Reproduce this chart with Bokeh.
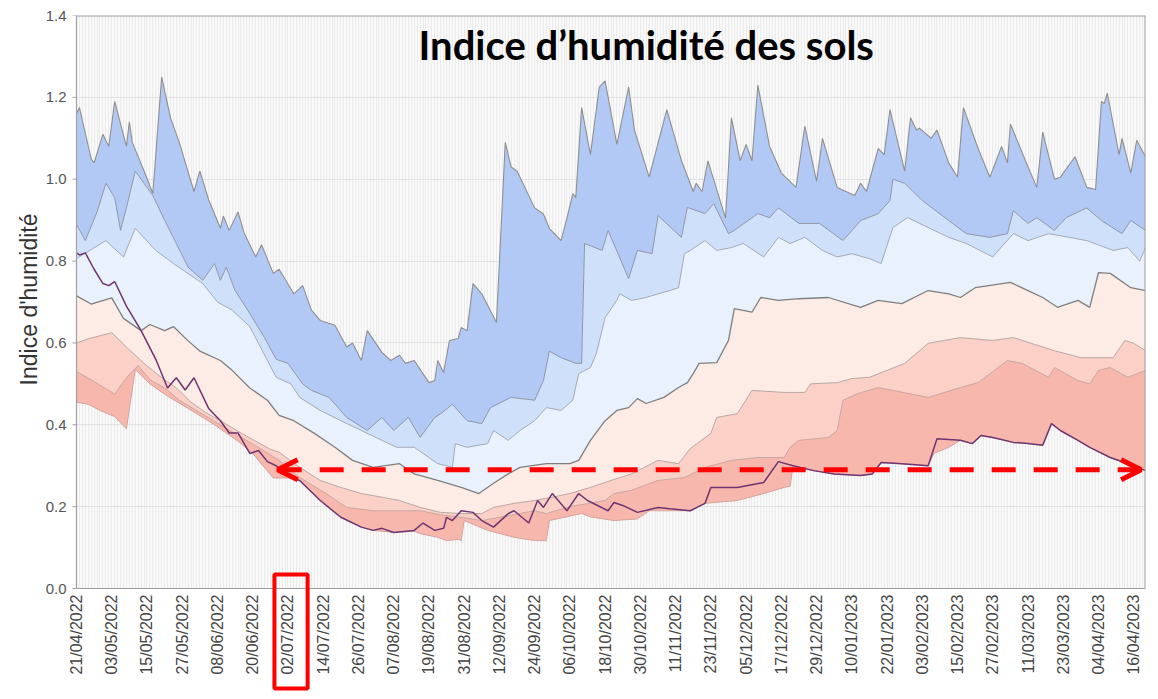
import math
from bokeh.plotting import figure
from bokeh.models import (Range1d, FixedTicker, Arrow, OpenHead, Label, Title, PrintfTickFormatter)
from bokeh.core.properties import value
from bokeh.embed import file_html
from bokeh.resources import INLINE

# ---------------- data (x = days since 21/04/2022) ----------------
TICK_LABELS = ["21/04/2022", "03/05/2022", "15/05/2022", "27/05/2022", "08/06/2022",
               "20/06/2022", "02/07/2022", "14/07/2022", "26/07/2022", "07/08/2022",
               "19/08/2022", "31/08/2022", "12/09/2022", "24/09/2022", "06/10/2022",
               "18/10/2022", "30/10/2022", "11/11/2022", "23/11/2022", "05/12/2022",
               "17/12/2022", "29/12/2022", "10/01/2023", "22/01/2023", "03/02/2023",
               "15/02/2023", "27/02/2023", "11/03/2023", "23/03/2023", "04/04/2023",
               "16/04/2023"]
TICK_STEP_DAYS = 12
Y_TICKS = [0.0, 0.2, 0.4, 0.6, 0.8, 1.0, 1.2, 1.4]

DAY_MAX = [0,1,5,6,9,11,13,17,18,19,23,26,29,32,35,40,42,45,49,50,52,55,57,61,63,67,69,74,77,80,
           83,88,92,94,97,99,104,107,110,112,115,120,122,123,125,127,130,131,133,135,138,143,146,148,
           150,156,159,161,165,167,169,170,172,175,178,180,184,185,188,190,195,201,206,210,211,213,215,
           221,223,226,228,230,232,236,240,245,248,252,254,259,265,267,269,273,275,277,282,284,286,287,
           291,293,297,300,302,307,311,315,317,318,324,327,329,333,335,340,344,347,349,350,351,355,356,
           359,361,364]
VAL_MAX = [1.16,1.175,1.05,1.04,1.11,1.08,1.19,1.08,1.14,1.09,1.02,0.965,1.25,1.15,1.09,0.97,1.02,0.95,
           0.88,0.91,0.875,0.92,0.87,0.81,0.84,0.77,0.78,0.72,0.74,0.68,0.655,0.643,0.59,0.60,0.557,0.63,
           0.577,0.557,0.57,0.55,0.557,0.503,0.508,0.557,0.528,0.606,0.611,0.638,0.63,0.745,0.72,0.65,
           1.09,1.03,1.02,0.93,0.915,0.88,0.85,0.905,0.965,0.955,1.175,1.06,1.225,1.24,1.085,1.12,1.225,
           1.12,1.005,1.17,1.045,0.97,0.99,0.97,1.045,0.905,1.15,1.045,1.085,1.045,1.23,1.08,1.015,0.98,
           1.13,0.995,1.10,0.98,0.96,0.99,0.97,1.075,1.06,1.17,1.02,1.15,1.12,1.125,1.10,1.12,1.04,1.005,
           1.175,1.075,1.005,1.08,1.04,1.135,1.03,0.98,1.115,1.00,1.005,1.055,0.98,0.975,1.19,1.185,1.21,
           1.06,1.10,1.015,1.095,1.055]

DAY_P90 = [0,3,7,10,13,15,17,20,23,26,30,34,38,43,47,49,51,54,59,64,68,72,77,80,86,92,99,104,108,113,
           117,122,124,128,133,138,141,148,156,159,161,165,170,172,173,179,181,188,191,196,198,206,208,
           214,217,222,224,232,236,239,246,253,261,267,273,277,278,282,288,297,303,311,317,319,324,327,
           333,337,344,349,356,359,364]
VAL_P90 = [0.89,0.85,0.92,0.99,0.955,0.875,0.93,1.02,0.99,0.96,0.90,0.843,0.785,0.753,0.794,0.753,0.785,
           0.728,0.672,0.613,0.56,0.55,0.50,0.484,0.467,0.418,0.386,0.418,0.386,0.418,0.369,0.418,0.427,
           0.45,0.41,0.403,0.442,0.467,0.46,0.508,0.58,0.564,0.55,0.55,0.843,0.826,0.875,0.757,0.826,0.818,
           0.911,0.858,0.931,0.916,0.94,0.867,0.875,0.916,0.906,0.93,0.892,0.892,0.85,0.899,0.916,0.948,
           1.0,0.99,0.948,0.899,0.867,0.858,0.867,0.923,0.892,0.906,0.875,0.906,0.93,0.899,0.867,0.899,0.875]

DAY_P75 = [0,10,16,20,27,33,43,48,53,59,65,68,73,76,83,90,97,104,109,115,120,123,128,129,133,140,142,
           147,151,156,160,165,169,171,175,177,180,184,185,189,194,198,202,205,207,209,214,218,223,227,
           234,239,243,248,254,259,264,270,274,278,283,290,297,303,312,319,324,331,338,344,353,358,362,364]
VAL_P75 = [0.806,0.85,0.81,0.88,0.826,0.794,0.745,0.70,0.68,0.64,0.557,0.516,0.50,0.467,0.435,0.41,0.386,
           0.362,0.345,0.345,0.32,0.305,0.296,0.354,0.345,0.354,0.386,0.362,0.386,0.41,0.442,0.435,0.46,
           0.525,0.54,0.574,0.662,0.704,0.72,0.704,0.711,0.72,0.728,0.735,0.818,0.826,0.85,0.826,0.833,
           0.843,0.81,0.858,0.843,0.858,0.826,0.81,0.818,0.806,0.794,0.882,0.906,0.882,0.858,0.843,0.81,
           0.867,0.85,0.867,0.858,0.85,0.826,0.833,0.80,0.833]

DAY_P50 = [0,5,12,16,22,25,30,33,38,42,49,53,59,65,69,74,81,88,94,101,110,115,123,131,137,142,147,151,
           160,168,171,175,180,184,188,191,194,200,205,208,210,212,218,222,224,230,233,239,246,256,267,
           273,281,290,297,301,306,318,324,329,334,341,345,348,352,359,364]
VAL_P50 = [0.715,0.695,0.71,0.66,0.63,0.645,0.63,0.64,0.605,0.58,0.557,0.533,0.49,0.46,0.423,0.41,0.379,
           0.345,0.313,0.296,0.305,0.28,0.264,0.247,0.232,0.257,0.28,0.296,0.305,0.305,0.313,0.362,0.41,
           0.435,0.442,0.464,0.452,0.467,0.491,0.503,0.525,0.55,0.552,0.606,0.684,0.675,0.711,0.704,0.708,
           0.711,0.687,0.704,0.696,0.728,0.72,0.711,0.735,0.748,0.728,0.711,0.687,0.704,0.687,0.772,0.77,
           0.735,0.728]

DAY_P25 = [0,4,12,17,23,29,34,39,44,49,56,61,66,69,76,83,90,97,104,110,117,124,131,138,142,149,156,162,
           168,175,182,189,198,205,209,216,218,225,230,241,248,250,259,264,270,276,282,290,301,312,319,
           333,342,353,357,360,364]
VAL_P25 = [0.60,0.61,0.625,0.59,0.55,0.515,0.49,0.455,0.43,0.41,0.38,0.36,0.34,0.333,0.296,0.264,0.247,
           0.232,0.223,0.215,0.198,0.186,0.183,0.183,0.198,0.208,0.215,0.223,0.232,0.247,0.264,0.28,0.313,
           0.305,0.342,0.379,0.418,0.427,0.484,0.479,0.479,0.50,0.503,0.513,0.516,0.533,0.55,0.599,0.613,
           0.606,0.613,0.581,0.564,0.564,0.606,0.599,0.581]

DAY_P10 = [0,5,13,17,21,25,30,35,42,49,56,63,69,76,85,92,101,109,117,124,131,138,147,156,160,168,180,
           183,189,198,207,214,223,232,241,243,246,256,259,261,266,273,290,301,307,317,322,331,333,341,
           345,348,352,358,364]
VAL_P10 = [0.53,0.51,0.475,0.515,0.545,0.51,0.49,0.46,0.43,0.40,0.37,0.34,0.313,0.271,0.232,0.198,0.19,
           0.19,0.19,0.18,0.174,0.166,0.178,0.19,0.183,0.20,0.215,0.232,0.24,0.264,0.271,0.296,0.313,0.32,
           0.32,0.345,0.362,0.369,0.386,0.46,0.476,0.491,0.467,0.491,0.503,0.557,0.55,0.516,0.54,0.508,
           0.50,0.533,0.54,0.516,0.533]

DAY_MIN = [0,4,8,13,17,20,25,31,38,47,55,60,67,73,76,83,90,97,101,108,115,117,123,126,130,131,132,140,
           149,156,160,161,172,175,183,191,195,209,214,225,234,241,243,244,251,258,267,271,274,281,290,
           292,297,301,305,308,312,319,324,329,332,335,341,345,352,358,364]
VAL_MIN = [0.455,0.45,0.435,0.42,0.39,0.535,0.50,0.47,0.44,0.40,0.36,0.33,0.27,0.27,0.264,0.215,0.174,
           0.15,0.142,0.137,0.14,0.134,0.125,0.117,0.12,0.117,0.166,0.142,0.125,0.117,0.117,0.166,0.183,
           0.175,0.166,0.17,0.19,0.19,0.208,0.215,0.232,0.247,0.25,0.30,0.288,0.28,0.276,0.28,0.308,0.305,
           0.30,0.33,0.345,0.362,0.354,0.374,0.369,0.357,0.354,0.35,0.403,0.386,0.362,0.345,0.32,0.305,0.288]

DAY_CUR = [0,1,3,6,9,11,13,17,22,27,31,34,37,40,45,49,52,55,59,62,65,68,73,76,83,90,97,101,104,108,
           115,118,122,125,126,128,131,135,138,142,147,149,154,157,159,162,167,171,174,181,183,186,191,
           198,202,209,214,216,225,234,239,244,251,258,267,271,274,281,290,293,301,305,308,312,319,324,
           329,332,335,341,345,352,358,364]
VAL_CUR = [0.82,0.815,0.82,0.78,0.745,0.74,0.75,0.69,0.63,0.56,0.49,0.515,0.485,0.515,0.44,0.41,0.38,
           0.38,0.33,0.337,0.31,0.30,0.27,0.264,0.215,0.174,0.15,0.142,0.147,0.137,0.142,0.16,0.142,0.147,
           0.174,0.166,0.19,0.186,0.166,0.15,0.183,0.19,0.16,0.215,0.198,0.232,0.19,0.232,0.215,0.19,0.21,
           0.203,0.186,0.198,0.195,0.19,0.208,0.247,0.247,0.259,0.31,0.30,0.288,0.28,0.276,0.28,0.308,
           0.305,0.30,0.366,0.362,0.354,0.374,0.369,0.357,0.354,0.35,0.403,0.386,0.362,0.345,0.32,0.305,
           0.288]

TITLE = "Indice d\u2019humidit\u00e9 des sols"
Y_LABEL = "Indice d'humidit\u00e9"
MARK_DAY = 72          # 02/07/2022
ARROW_LEVEL = 0.29

for d, v in [(DAY_MAX, VAL_MAX), (DAY_P90, VAL_P90), (DAY_P75, VAL_P75), (DAY_P50, VAL_P50),
             (DAY_P25, VAL_P25), (DAY_P10, VAL_P10), (DAY_MIN, VAL_MIN), (DAY_CUR, VAL_CUR)]:
    assert len(d) == len(v), (len(d), len(v))

# ---------------- layout constants ----------------
W, H = 1150, 691
TOP_PX, ZERO_PX = 15, 588          # canvas rows of y=1.4 and y=0
LEFT_PX, RIGHT_PX = 76, 1145       # canvas columns of day 0 and of the last day
PAD_PX = 10                        # room left of day 0 for the first tick label
X0, X1 = 0, 364
Y1 = 1.4
PY = Y1 / (ZERO_PX - TOP_PX)                    # data units per pixel (vertical)
PXD = (X1 - X0) / (RIGHT_PX - LEFT_PX)          # days per pixel (horizontal)
Y0 = -(H - ZERO_PX) * PY                        # frame reaches the canvas bottom
XL = X0 - PAD_PX * PXD

p = figure(width=W, height=H, x_range=Range1d(XL, X1), y_range=Range1d(Y0, Y1),
           x_axis_location=None, output_backend="svg", toolbar_location=None,
           min_border_left=LEFT_PX - PAD_PX, min_border_right=W - RIGHT_PX,
           min_border_top=TOP_PX, min_border_bottom=0)
p.background_fill_color = "#f9f9f9"
p.border_fill_color = "white"
p.outline_line_color = None

# white areas outside the plotting box (below the x axis, left of day 0)
p.quad(left=[XL, XL], right=[X1, X0], bottom=[Y0, Y0], top=[0, Y1],
       fill_color="white", line_color=None)

# bands: (upper, lower, colour)
bands = [
    ((DAY_MAX, VAL_MAX), (DAY_P90, VAL_P90), "#b3c9f5"),
    ((DAY_P90, VAL_P90), (DAY_P75, VAL_P75), "#cfe0fb"),
    ((DAY_P75, VAL_P75), (DAY_P50, VAL_P50), "#e9f1fd"),
    ((DAY_P50, VAL_P50), (DAY_P25, VAL_P25), "#fdebe6"),
    ((DAY_P25, VAL_P25), (DAY_P10, VAL_P10), "#fbd0c7"),
    ((DAY_P10, VAL_P10), (DAY_MIN, VAL_MIN), "#f8b7ad"),
]
for (ud, uv), (ld, lv), col in bands:
    xs = list(ud) + list(reversed(ld))
    ys = list(uv) + list(reversed(lv))
    p.patch(xs, ys, fill_color=col, line_color=None)

# boundary lines
for (d, v), col, w in [((DAY_MAX, VAL_MAX), "#8f8f8f", 1.1),
                       ((DAY_P90, VAL_P90), "#8f96a6", 1.0),
                       ((DAY_P75, VAL_P75), "#a3a9b5", 1.0),
                       ((DAY_P50, VAL_P50), "#7f7f7f", 1.3),
                       ((DAY_P25, VAL_P25), "#b8a8a6", 1.0),
                       ((DAY_P10, VAL_P10), "#c8a7a2", 1.0),
                       ((DAY_MIN, VAL_MIN), "#d3a49e", 1.0)]:
    p.line(d, v, line_color=col, line_width=w)

p.line(DAY_CUR, VAL_CUR, line_color="#6e3470", line_width=1.5)

# plot border (left, top, right), x axis line at y = 0, y tick marks
FRAME_COL = "#a0a0a0"
p.line([X0, X0], [0, Y1], line_color=FRAME_COL, line_width=1.2)
p.line([X0, X1], [Y1, Y1], line_color=FRAME_COL, line_width=2)
p.line([X1, X1], [0, Y1], line_color=FRAME_COL, line_width=2)
p.line([X0, X1], [0, 0], line_color=FRAME_COL, line_width=1.2)
p.segment(x0=[X0 - 4 * PXD] * len(Y_TICKS), x1=[X0] * len(Y_TICKS), y0=Y_TICKS, y1=Y_TICKS,
          line_color=FRAME_COL, line_width=1)

# x tick labels (vertical, reading upwards)
tick_days = [i * TICK_STEP_DAYS for i in range(len(TICK_LABELS))]
p.text(x=tick_days, y=[-6 * PY] * len(tick_days), text=TICK_LABELS, angle=math.pi / 2,
       text_align="right", text_baseline="middle", text_font=value("Liberation Sans"),
       text_font_size=value("16px"), text_color="#444444")

# ---------------- y axis ----------------
p.yaxis.ticker = FixedTicker(ticks=Y_TICKS)
p.yaxis.formatter = PrintfTickFormatter(format="%.1f")
p.yaxis.major_label_text_font = "Liberation Sans"
p.yaxis.major_label_text_font_size = "15px"
p.yaxis.major_label_text_color = "#555555"
p.yaxis.major_label_standoff = 0
p.yaxis.axis_line_color = None
p.yaxis.major_tick_line_color = None
p.yaxis.major_tick_out = 0
p.yaxis.major_tick_in = 0
p.yaxis.minor_tick_line_color = None

p.add_layout(Title(text=Y_LABEL, align="right", offset=198, text_font="Liberation Sans",
                   text_font_style="normal", text_font_size="23px", text_color="#333333",
                   standoff=2), "left")

p.xgrid.ticker = FixedTicker(ticks=list(range(X0, X1 + 1)))
p.xgrid.grid_line_color = "#ebebeb"
p.ygrid.ticker = FixedTicker(ticks=Y_TICKS)
p.ygrid.grid_line_color = "#e2e2e2"

# ---------------- annotations ----------------
p.add_layout(Label(x=194, y=1.327, text=TITLE, text_align="center", text_baseline="middle",
                   text_font="Lato", text_font_style="bold", text_font_size="40px",
                   text_color="black"))

p.add_layout(Arrow(start=OpenHead(size=20, line_color="red", line_width=5),
                   end=OpenHead(size=20, line_color="red", line_width=5),
                   x_start=MARK_DAY - 3.5, y_start=ARROW_LEVEL, x_end=362.5, y_end=ARROW_LEVEL,
                   line_color="red", line_width=5, line_dash="24 18"))

# red frame around the 02/07/2022 tick label
p.quad(left=MARK_DAY - 4.6, right=MARK_DAY + 6.7, top=14 * PY, bottom=-100 * PY,
       fill_color=None, line_color="red", line_width=4)

open("out.html", "w").write(file_html(p, INLINE))
